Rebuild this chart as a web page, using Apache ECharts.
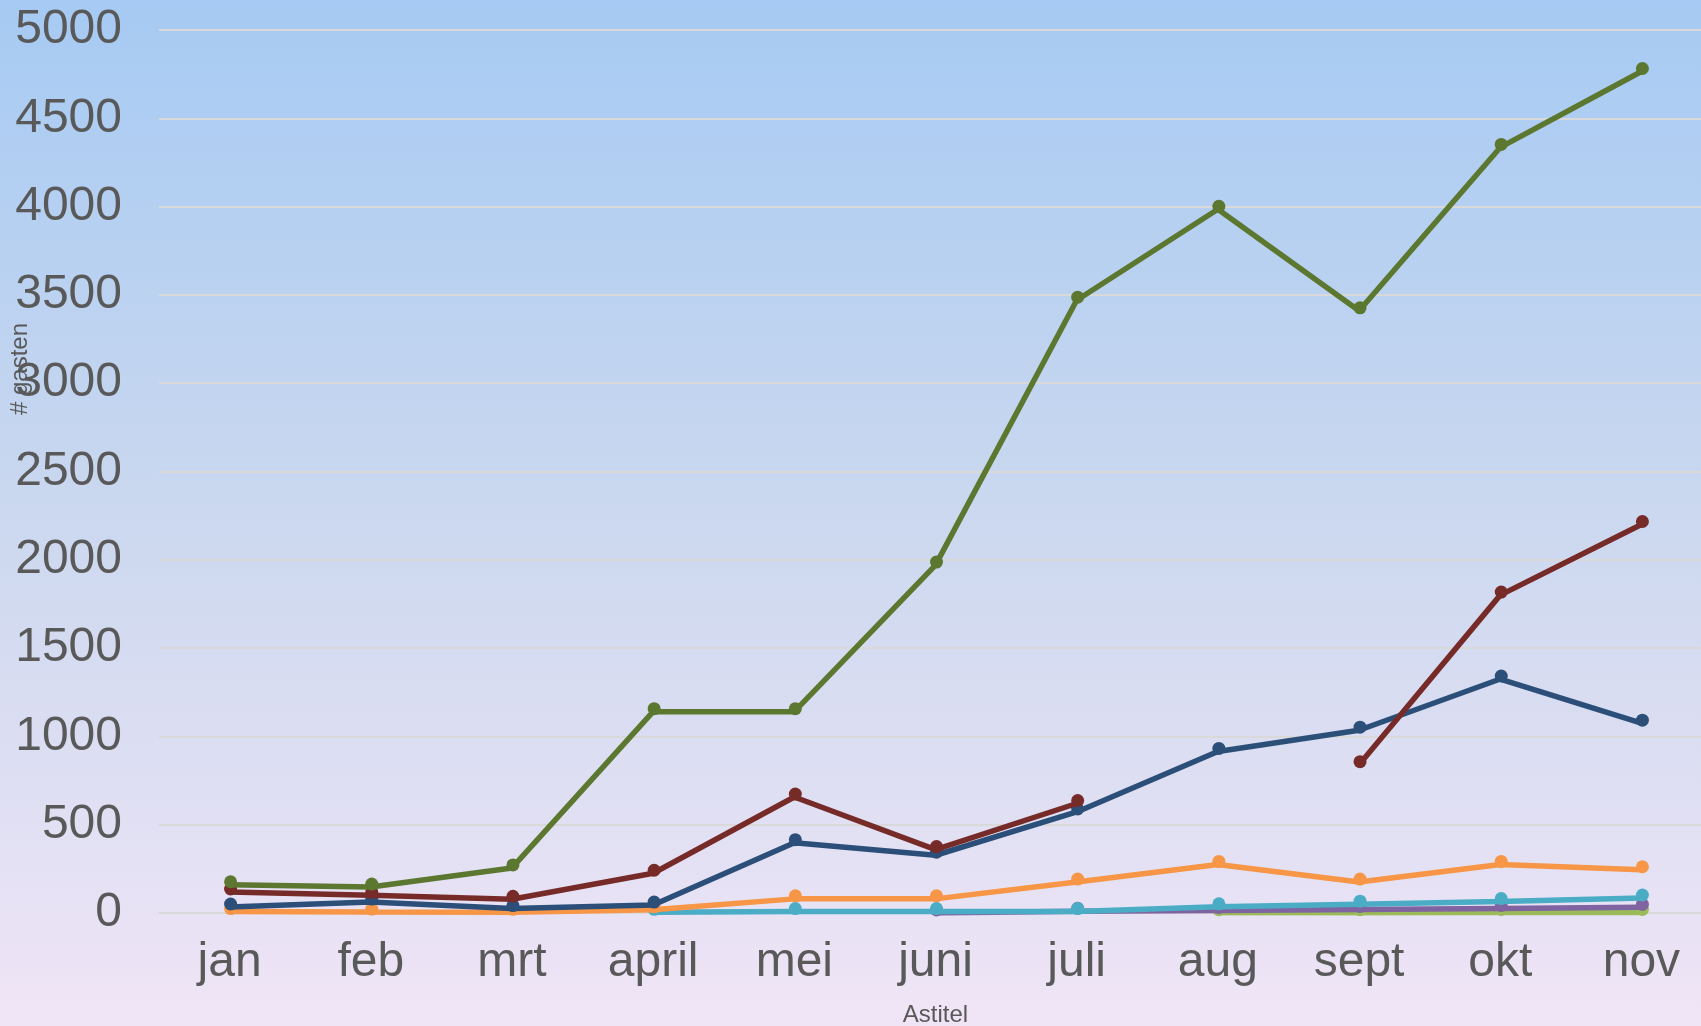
<!DOCTYPE html>
<html>
<head>
<meta charset="utf-8">
<script src="https://cdn.jsdelivr.net/npm/echarts@6/dist/echarts.min.js"></script>
<style>
html,body{margin:0;padding:0;width:1701px;height:1026px;overflow:hidden;}
#c{width:1701px;height:1026px;}
</style>
</head>
<body>
<div id="c"></div>
<script>
var categories = ['jan','feb','mrt','april','mei','juni','juli','aug','sept','okt','nov'];
var yTicks = [0,500,1000,1500,2000,2500,3000,3500,4000,4500,5000];

var greenDark = [160, 147, 255, 1140, 1140, 1970, 3470, 3985, 3410, 4335, 4765];
var redDark   = [119, 100, 78, 225, 657, 359, 620, null, 840, 1800, 2200];
var blueDark  = [34, 62, 25, 45, 398, 327, 572, 915, 1035, 1325, 1075];
var orange    = [8, 5, 4, 18, 80, 80, 175, 275, 175, 275, 245];
var teal      = [null, null, null, 4, 8, 8, 8, 35, 50, 65, 85];
var purple    = [null, null, null, null, null, 0, 10, 14, 20, 26, 32];
var lightGreen= [null, null, null, null, null, null, null, 2, 2, 3, 3];

var xName = 'Astitel';
var yName = '# gasten';

function mk(name, data, color, z) {
  return {
    name: name, type: 'line', data: data, z: z,
    symbol: 'circle', symbolSize: 13, symbolOffset: [1, -3],
    showSymbol: true, connectNulls: false,
    lineStyle: { color: color, width: 5.5 },
    itemStyle: { color: color },
    emphasis: { disabled: true },
    animation: false
  };
}

var chart = echarts.init(document.getElementById('c'), null, { renderer: 'canvas' });
chart.setOption({
  animation: false,
  backgroundColor: {
    type: 'linear', x: 0, y: 0, x2: 0, y2: 1,
    colorStops: [
      { offset: 0, color: '#a6caf3' },
      { offset: 0.5, color: '#cbd8ef' },
      { offset: 1, color: '#f0e5f6' }
    ]
  },
  grid: { left: 159, width: 1553, top: 30, height: 883, containLabel: false, outerBoundsMode: 'none' },
  xAxis: {
    type: 'category', data: categories, boundaryGap: true,
    name: xName, nameLocation: 'middle', nameGap: 90,
    nameTextStyle: { fontSize: 24, color: '#595959', fontFamily: 'Liberation Sans Narrow, Liberation Sans' },
    axisLine: { show: true, lineStyle: { color: '#d9d9d9', width: 2 } },
    axisTick: { show: false },
    axisLabel: { fontSize: 48, color: '#595959', margin: 26, fontFamily: 'Liberation Sans', interval: 0 }
  },
  yAxis: {
    type: 'value', min: 0, max: 5000, interval: 500,
    axisLine: { show: false }, axisTick: { show: false },
    axisLabel: { fontSize: 48, color: '#595959', margin: 37, fontFamily: 'Liberation Sans',
      formatter: function (v) { return yTicks.indexOf(v) >= 0 ? String(v) : ''; } },
    splitLine: { show: true, lineStyle: { color: '#d9d9d9', width: 2 } }
  },
  graphic: [{
    type: 'text', x: 20, y: 369, rotation: Math.PI / 2,
    style: { text: yName, fontSize: 24, fill: '#595959', fontFamily: 'Liberation Sans Narrow, Liberation Sans',
      align: 'center', verticalAlign: 'middle' }
  }],
  series: [
    mk('s7', lightGreen, '#9bbb59', 1),
    mk('s6', purple, '#8064a2', 2),
    mk('s5', teal, '#4bacc6', 3),
    mk('s4', orange, '#f79646', 4),
    mk('s3', blueDark, '#2c4f79', 5),
    mk('s2', redDark, '#772b29', 6),
    mk('s1', greenDark, '#5c7830', 7)
  ]
});
</script>
</body>
</html>
